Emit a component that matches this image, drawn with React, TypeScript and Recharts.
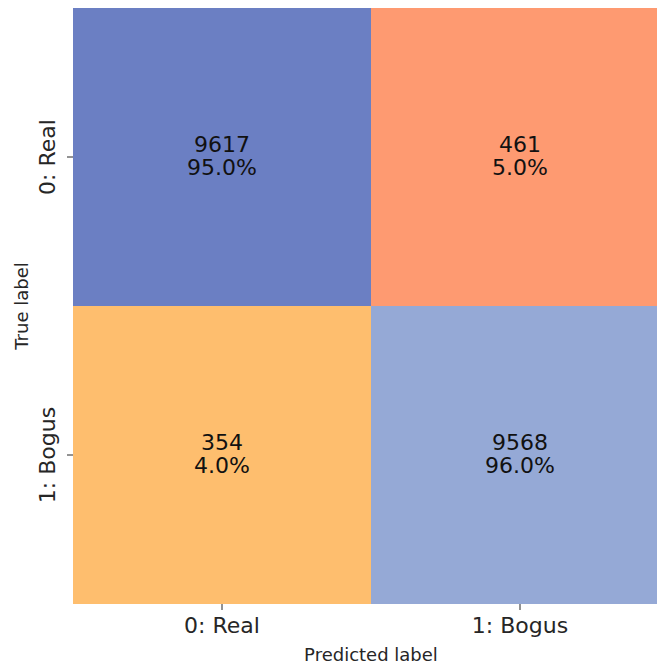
import { BarChart, Bar, XAxis, YAxis, Cell, LabelList, Label } from "recharts";

const predictedLabels = ["0: Real", "1: Bogus"];
const trueLabels = ["0: Real", "1: Bogus"];
// rows = true label, columns = predicted label
const countsReal = [9617, 461];
const countsBogus = [354, 9568];
const percentsReal = [95.0, 5.0];
const percentsBogus = [4.0, 96.0];

const colorsReal = ["#6b7fc3", "#fe9a71"];
const colorsBogus = ["#febe6e", "#95a9d6"];

const FONT = "DejaVu Sans, sans-serif";
const INK = "#262626";

// each cell spans one unit row, bogus row stacked under real row
const data = predictedLabels.map((p, i) => ({
  pred: p,
  bogus: 1,
  real: 1,
  realCount: countsReal[i],
  realPct: percentsReal[i],
  bogusCount: countsBogus[i],
  bogusPct: percentsBogus[i],
}));

const CellText = (props: any, counts: number[], pcts: number[]) => {
  const { x, y, width, height, index } = props;
  const cx = x + width / 2;
  const cy = y + height / 2;
  return (
    <g>
      <text x={cx} y={cy - 5} textAnchor="middle" fontFamily={FONT} fontSize={22} fill="#111">
        {counts[index]}
      </text>
      <text x={cx} y={cy + 18} textAnchor="middle" fontFamily={FONT} fontSize={22} fill="#111">
        {pcts[index].toFixed(1)}%
      </text>
    </g>
  );
};

const XTick = ({ x, payload }: any) => (
  <text x={x} y={633} textAnchor="middle" fontFamily={FONT} fontSize={22} fill={INK}>
    {payload.value}
  </text>
);

const YTick = ({ y, payload }: any) => (
  <text
    x={55}
    y={y}
    transform={`rotate(-90, 55, ${y})`}
    textAnchor="middle"
    fontFamily={FONT}
    fontSize={22}
    fill={INK}
  >
    {payload.value === 1.5 ? trueLabels[0] : trueLabels[1]}
  </text>
);

export default function App() {
  return (
    <div
      style={{
        position: "fixed",
        top: 0,
        left: 0,
        width: 657,
        height: 666,
        overflow: "hidden",
        background: "#fff",
      }}
    >
      <BarChart
        width={669}
        height={666}
        data={data}
        margin={{ top: 8, right: 0, bottom: 0, left: 0 }}
        barCategoryGap={0}
      >
        <XAxis
          dataKey="pred"
          axisLine={false}
          tickLine={{ stroke: INK }}
          tickSize={6}
          height={62}
          tick={<XTick />}
          interval={0}
        >
          <Label
            content={() => (
              <text x={371} y={661} textAnchor="middle" fontFamily={FONT} fontSize={18} fill={INK}>
                Predicted label
              </text>
            )}
          />
        </XAxis>
        <YAxis
          type="number"
          domain={[0, 2]}
          ticks={[0.5, 1.5]}
          axisLine={false}
          tickLine={{ stroke: INK }}
          tickSize={6}
          width={73}
          tick={<YTick />}
        >
          <Label
            content={() => (
              <text
                x={28}
                y={306}
                transform="rotate(-90, 28, 306)"
                textAnchor="middle"
                fontFamily={FONT}
                fontSize={18}
                fill={INK}
              >
                True label
              </text>
            )}
          />
        </YAxis>
        <Bar dataKey="bogus" stackId="cm" isAnimationActive={false}>
          {data.map((_, i) => (
            <Cell key={i} fill={colorsBogus[i]} />
          ))}
          <LabelList content={(p: any) => CellText(p, countsBogus, percentsBogus)} />
        </Bar>
        <Bar dataKey="real" stackId="cm" isAnimationActive={false}>
          {data.map((_, i) => (
            <Cell key={i} fill={colorsReal[i]} />
          ))}
          <LabelList content={(p: any) => CellText(p, countsReal, percentsReal)} />
        </Bar>
      </BarChart>
    </div>
  );
}
